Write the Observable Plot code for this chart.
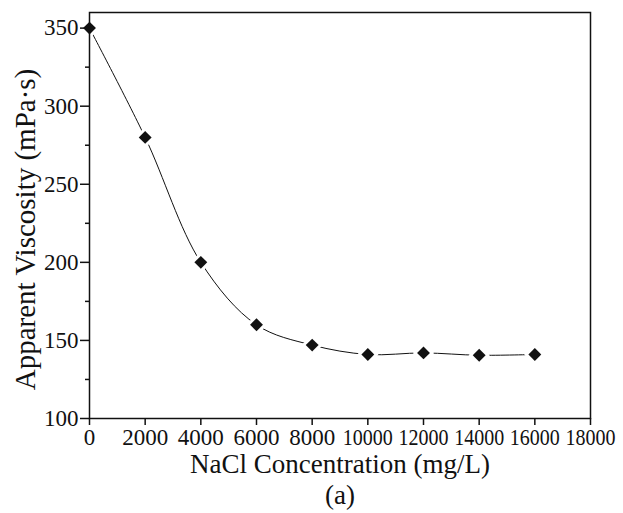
<!DOCTYPE html>
<html>
<head>
<meta charset="utf-8">
<script src="https://cdn.jsdelivr.net/npm/d3@7"></script>
<script src="https://cdn.jsdelivr.net/npm/@observablehq/plot@0.6"></script>
<style>
  html, body { margin: 0; padding: 0; background: #fff; }
  svg text { font-family: 'Liberation Serif', 'Times New Roman', serif; }
</style>
</head>
<body>
<div id="chart"></div>
<script>
const concentration = [0, 2000, 4000, 6000, 8000, 10000, 12000, 14000, 16000];
const viscosity = [350, 280, 200, 160, 147, 141, 142, 140.5, 141];
const xTicks = [0, 2000, 4000, 6000, 8000, 10000, 12000, 14000, 16000, 18000];
const yTicks = [100, 150, 200, 250, 300, 350];
const yMinorTicks = [125, 175, 225, 275, 325];
const xLabel = "NaCl Concentration (mg/L)";
const yLabel = "Apparent Viscosity (mPa·s)";
const panelLabel = "(a)";

const data = concentration.map((c, i) => ({c, v: viscosity[i]}));
const font = "'Liberation Serif', 'Times New Roman', serif";

const chart = Plot.plot({
  width: 623,
  height: 513,
  marginLeft: 89,
  marginRight: 33,
  marginTop: 12,
  marginBottom: 95,
  style: {fontFamily: font, fontSize: "22px", color: "#111", background: "#fff"},
  x: {domain: [0, 18000]},
  y: {domain: [100, 360]},
  marks: [
    Plot.line(data, {x: "c", y: "v", curve: "catmull-rom", stroke: "#111", strokeWidth: 1}),
    Plot.dot(data, {x: "c", y: "v", symbol: "diamond2", r: 5.8, fill: "#111", stroke: "white", strokeWidth: 6, paintOrder: "stroke"}),
    Plot.frame({stroke: "#111", strokeWidth: 1.5}),
    Plot.axisX({ticks: xTicks, tickSize: 7, tickPadding: 3, tickFormat: d => String(d), label: null, fontSize: 23, stroke: "#111", strokeWidth: 1.5}),
    Plot.axisY({ticks: yTicks, tickSize: 9, tickPadding: 2, tickFormat: d => String(d), label: null, fontSize: 23, stroke: "#111", strokeWidth: 1.5}),
    Plot.axisY({ticks: yMinorTicks, tickSize: 4, tickFormat: () => "", label: null, stroke: "#111", strokeWidth: 1.5}),
    Plot.text([xLabel], {frameAnchor: "bottom", dy: 54, fontSize: 27, fill: "#111", fontFamily: font}),
    Plot.text([panelLabel], {frameAnchor: "bottom", dy: 85, fontSize: 27, fill: "#111", fontFamily: font}),
    Plot.text([yLabel], {frameAnchor: "left", textAnchor: "middle", dx: -64, dy: 14, rotate: -90, fontSize: 29, fill: "#111", fontFamily: font})
  ]
});
// condense the five-digit x tick labels so they sit side by side as in the reference
chart.querySelectorAll('g[aria-label="x-axis tick label"] text').forEach(t => {
  if (t.textContent.length === 5) {
    t.setAttribute("textLength", 50);
    t.setAttribute("lengthAdjust", "spacingAndGlyphs");
  }
});
document.getElementById("chart").appendChild(chart);
</script>
</body>
</html>
